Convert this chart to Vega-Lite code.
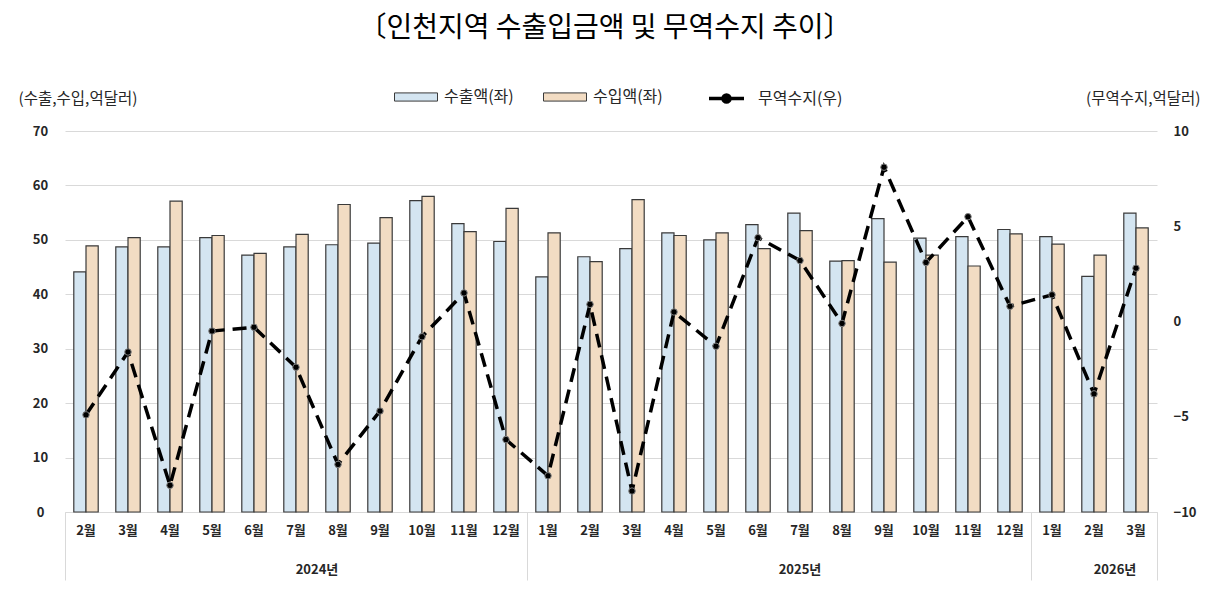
{
  "$schema": "https://vega.github.io/schema/vega-lite/v6.json",
  "width": 1092,
  "height": 381,
  "autosize": {"type": "none"},
  "padding": {"left": 65, "top": 131, "right": 52, "bottom": 81},
  "background": "white",
  "config": {
    "font": "Noto Sans CJK KR",
    "view": {"stroke": null}
  },
  "title": {
    "text": "〔인천지역 수출입금액 및 무역수지 추이〕",
    "font": "Noto Sans CJK KR",
    "fontSize": 28,
    "fontWeight": "normal",
    "color": "#000000",
    "anchor": "middle",
    "frame": "group",
    "dx": -6,
    "offset": 32
  },
  "datasets": {
    "trade": [
      {"m": "2024-02", "s": "수출액(좌)", "v": 44.1}, {"m": "2024-02", "s": "수입액(좌)", "v": 48.9},
      {"m": "2024-03", "s": "수출액(좌)", "v": 48.7}, {"m": "2024-03", "s": "수입액(좌)", "v": 50.4},
      {"m": "2024-04", "s": "수출액(좌)", "v": 48.7}, {"m": "2024-04", "s": "수입액(좌)", "v": 57.1},
      {"m": "2024-05", "s": "수출액(좌)", "v": 50.4}, {"m": "2024-05", "s": "수입액(좌)", "v": 50.8},
      {"m": "2024-06", "s": "수출액(좌)", "v": 47.2}, {"m": "2024-06", "s": "수입액(좌)", "v": 47.5},
      {"m": "2024-07", "s": "수출액(좌)", "v": 48.7}, {"m": "2024-07", "s": "수입액(좌)", "v": 51.0},
      {"m": "2024-08", "s": "수출액(좌)", "v": 49.1}, {"m": "2024-08", "s": "수입액(좌)", "v": 56.5},
      {"m": "2024-09", "s": "수출액(좌)", "v": 49.4}, {"m": "2024-09", "s": "수입액(좌)", "v": 54.1},
      {"m": "2024-10", "s": "수출액(좌)", "v": 57.2}, {"m": "2024-10", "s": "수입액(좌)", "v": 58.0},
      {"m": "2024-11", "s": "수출액(좌)", "v": 53.0}, {"m": "2024-11", "s": "수입액(좌)", "v": 51.5},
      {"m": "2024-12", "s": "수출액(좌)", "v": 49.7}, {"m": "2024-12", "s": "수입액(좌)", "v": 55.8},
      {"m": "2025-01", "s": "수출액(좌)", "v": 43.2}, {"m": "2025-01", "s": "수입액(좌)", "v": 51.3},
      {"m": "2025-02", "s": "수출액(좌)", "v": 46.9}, {"m": "2025-02", "s": "수입액(좌)", "v": 46.0},
      {"m": "2025-03", "s": "수출액(좌)", "v": 48.4}, {"m": "2025-03", "s": "수입액(좌)", "v": 57.4},
      {"m": "2025-04", "s": "수출액(좌)", "v": 51.3}, {"m": "2025-04", "s": "수입액(좌)", "v": 50.8},
      {"m": "2025-05", "s": "수출액(좌)", "v": 50.0}, {"m": "2025-05", "s": "수입액(좌)", "v": 51.3},
      {"m": "2025-06", "s": "수출액(좌)", "v": 52.8}, {"m": "2025-06", "s": "수입액(좌)", "v": 48.4},
      {"m": "2025-07", "s": "수출액(좌)", "v": 54.9}, {"m": "2025-07", "s": "수입액(좌)", "v": 51.7},
      {"m": "2025-08", "s": "수출액(좌)", "v": 46.1}, {"m": "2025-08", "s": "수입액(좌)", "v": 46.2},
      {"m": "2025-09", "s": "수출액(좌)", "v": 53.9}, {"m": "2025-09", "s": "수입액(좌)", "v": 45.9},
      {"m": "2025-10", "s": "수출액(좌)", "v": 50.3}, {"m": "2025-10", "s": "수입액(좌)", "v": 47.2},
      {"m": "2025-11", "s": "수출액(좌)", "v": 50.6}, {"m": "2025-11", "s": "수입액(좌)", "v": 45.2},
      {"m": "2025-12", "s": "수출액(좌)", "v": 51.9}, {"m": "2025-12", "s": "수입액(좌)", "v": 51.1},
      {"m": "2026-01", "s": "수출액(좌)", "v": 50.6}, {"m": "2026-01", "s": "수입액(좌)", "v": 49.2},
      {"m": "2026-02", "s": "수출액(좌)", "v": 43.3}, {"m": "2026-02", "s": "수입액(좌)", "v": 47.2},
      {"m": "2026-03", "s": "수출액(좌)", "v": 54.9}, {"m": "2026-03", "s": "수입액(좌)", "v": 52.2}
    ],
    "bal": [
      {"m": "2024-02", "s": "무역수지(우)", "b": -4.9},
      {"m": "2024-03", "s": "무역수지(우)", "b": -1.6},
      {"m": "2024-04", "s": "무역수지(우)", "b": -8.6},
      {"m": "2024-05", "s": "무역수지(우)", "b": -0.5},
      {"m": "2024-06", "s": "무역수지(우)", "b": -0.3},
      {"m": "2024-07", "s": "무역수지(우)", "b": -2.4},
      {"m": "2024-08", "s": "무역수지(우)", "b": -7.5},
      {"m": "2024-09", "s": "무역수지(우)", "b": -4.7},
      {"m": "2024-10", "s": "무역수지(우)", "b": -0.8},
      {"m": "2024-11", "s": "무역수지(우)", "b": 1.5},
      {"m": "2024-12", "s": "무역수지(우)", "b": -6.2},
      {"m": "2025-01", "s": "무역수지(우)", "b": -8.1},
      {"m": "2025-02", "s": "무역수지(우)", "b": 0.9},
      {"m": "2025-03", "s": "무역수지(우)", "b": -8.9},
      {"m": "2025-04", "s": "무역수지(우)", "b": 0.5},
      {"m": "2025-05", "s": "무역수지(우)", "b": -1.3},
      {"m": "2025-06", "s": "무역수지(우)", "b": 4.4},
      {"m": "2025-07", "s": "무역수지(우)", "b": 3.2},
      {"m": "2025-08", "s": "무역수지(우)", "b": -0.1},
      {"m": "2025-09", "s": "무역수지(우)", "b": 8.1},
      {"m": "2025-10", "s": "무역수지(우)", "b": 3.1},
      {"m": "2025-11", "s": "무역수지(우)", "b": 5.5},
      {"m": "2025-12", "s": "무역수지(우)", "b": 0.8},
      {"m": "2026-01", "s": "무역수지(우)", "b": 1.4},
      {"m": "2026-02", "s": "무역수지(우)", "b": -3.8},
      {"m": "2026-03", "s": "무역수지(우)", "b": 2.8}
    ]
  },
  "layer": [
    {
      "data": {"name": "trade"},
      "mark": {"type": "bar", "stroke": "#3a3a3a", "strokeWidth": 1.2},
      "encoding": {
        "x": {
          "field": "m", "type": "nominal", "sort": null,
          "scale": {"paddingInner": 0, "paddingOuter": 0},
          "axis": {
            "orient": "bottom",
            "title": null,
            "labelExpr": "toNumber(substring(datum.value, 5)) + '월'",
            "labelAngle": 0,
            "labelFont": "Noto Sans CJK KR",
            "labelFontSize": 13,
            "labelFontWeight": "bold",
            "labelColor": "#262626",
            "labelPadding": 12,
            "ticks": false,
            "domain": true,
            "domainColor": "#D9D9D9",
            "domainWidth": 1,
            "grid": false
          }
        },
        "xOffset": {
          "field": "s", "type": "nominal", "sort": ["수출액(좌)", "수입액(좌)"],
          "scale": {"paddingInner": 0, "paddingOuter": 0.72}
        },
        "y": {
          "field": "v", "type": "quantitative",
          "scale": {"domain": [0, 70], "nice": false},
          "axis": {
            "orient": "left",
            "values": [0, 10, 20, 30, 40, 50, 60, 70],
            "title": "(수출,수입,억달러)",
            "titleAngle": 0,
            "titleAlign": "left",
            "titleBaseline": "middle",
            "titleX": -47,
            "titleY": -33,
            "titleFont": "Noto Sans CJK KR",
            "titleFontSize": 15.5,
            "titleFontWeight": "normal",
            "titleColor": "#262626",
            "labelAlign": "center",
            "labelPadding": 25,
            "labelFont": "Noto Sans CJK KR",
            "labelFontSize": 13,
            "labelFontWeight": "bold",
            "labelColor": "#262626",
            "ticks": false,
            "domain": false,
            "grid": true,
            "gridColor": "#D9D9D9",
            "gridWidth": 1
          }
        },
        "fill": {
          "field": "s", "type": "nominal",
          "scale": {"domain": ["수출액(좌)", "수입액(좌)"], "range": ["#D4E5F1", "#F2DCC3"]},
          "legend": {
            "title": null,
            "orient": "none",
            "direction": "horizontal",
            "legendX": 329,
            "legendY": -56,
            "symbolType": "M-1,-0.19H1V0.19H-1Z",
            "symbolSize": 1849,
            "symbolStrokeColor": "#3a3a3a",
            "symbolStrokeWidth": 1,
            "labelFont": "Noto Sans CJK KR",
            "labelFontSize": 16,
            "labelColor": "#262626",
            "labelOffset": 6,
            "columnPadding": 27,
            "padding": 0
          }
        }
      }
    },
    {
      "data": {"name": "bal"},
      "mark": {"type": "line", "strokeDash": [14, 8], "strokeWidth": 3.5, "strokeCap": "butt"},
      "encoding": {
        "x": {
          "field": "m", "type": "nominal", "sort": null,
          "axis": {
            "orient": "bottom",
            "title": null,
            "bandPosition": 0,
            "labelExpr": "datum.value == '2024-07' ? '2024년' : datum.value == '2025-07' ? '2025년' : datum.value == '2026-02' ? '2026년' : ''",
            "labelAngle": 0,
            "labelFont": "Noto Sans CJK KR",
            "labelFontSize": 13,
            "labelFontWeight": "bold",
            "labelColor": "#262626",
            "labelPadding": -17,
            "labelOffset": {"condition": {"test": "datum.value == '2025-07'", "value": 0}, "value": 21},
            "ticks": true,
            "tickSize": 68,
            "tickWidth": 1,
            "tickColor": {"condition": {"test": "datum.value == '2024-02' || datum.value == '2025-01' || datum.value == '2026-01'", "value": "#D9D9D9"}, "value": "rgba(0,0,0,0)"},
            "domain": false,
            "grid": false
          }
        },
        "y": {
          "field": "b", "type": "quantitative",
          "scale": {"domain": [-10, 10], "nice": false},
          "axis": {
            "orient": "right",
            "values": [-10, -5, 0, 5, 10],
            "title": "(무역수지,억달러)",
            "titleAngle": 0,
            "titleAlign": "right",
            "titleBaseline": "middle",
            "titleX": 43,
            "titleY": -33,
            "titleFont": "Noto Sans CJK KR",
            "titleFontSize": 15.5,
            "titleFontWeight": "normal",
            "titleColor": "#262626",
            "labelAlign": "left",
            "labelPadding": 16,
            "labelFont": "Noto Sans CJK KR",
            "labelFontSize": 13,
            "labelFontWeight": "bold",
            "labelColor": "#262626",
            "ticks": false,
            "domain": false,
            "grid": false
          }
        },
        "stroke": {
          "field": "s", "type": "nominal",
          "scale": {"domain": ["무역수지(우)"], "range": ["#000000"]},
          "legend": {
            "title": null,
            "orient": "none",
            "direction": "horizontal",
            "legendX": 642,
            "legendY": -52,
            "symbolType": "M-1,0H-0.25M0.25,0H1M0.2,0A0.2,0.2,0,1,1,-0.2,0A0.2,0.2,0,1,1,0.2,0Z",
            "symbolSize": 1225,
            "symbolStrokeWidth": 3.5,
            "symbolFillColor": "#000000",
            "labelFont": "Noto Sans CJK KR",
            "labelFontSize": 16,
            "labelColor": "#262626",
            "labelOffset": 12,
            "padding": 0
          }
        }
      }
    },
    {
      "data": {"name": "bal"},
      "mark": {"type": "point", "filled": true, "size": 42, "fill": "#000000", "stroke": "#7f7f7f", "strokeWidth": 1, "opacity": 1},
      "encoding": {
        "x": {
          "field": "m", "type": "nominal", "sort": null,
          "axis": {
            "orient": "bottom",
            "title": null,
            "bandPosition": 1,
            "labels": false,
            "ticks": true,
            "tickSize": 68,
            "tickWidth": 1,
            "tickColor": {"condition": {"test": "datum.value == '2026-03'", "value": "#D9D9D9"}, "value": "rgba(0,0,0,0)"},
            "domain": false,
            "grid": false
          }
        },
        "y": {
          "field": "b", "type": "quantitative",
          "scale": {"domain": [-10, 10], "nice": false},
          "axis": null
        }
      }
    }
  ],
  "resolve": {"scale": {"y": "independent"}, "axis": {"x": "independent", "y": "independent"}}
}
